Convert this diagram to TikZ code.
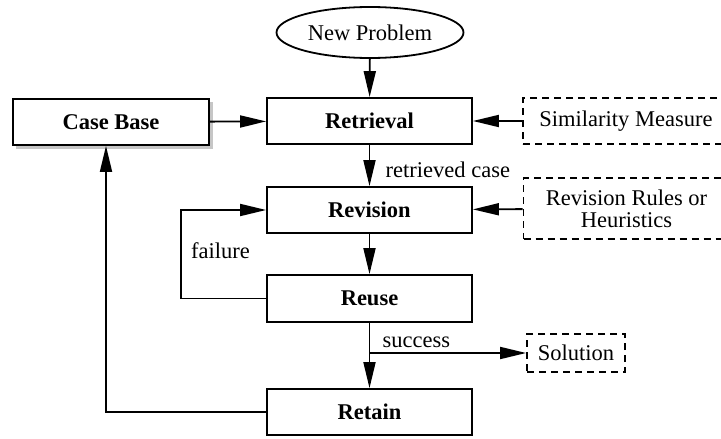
\documentclass[tikz,border=0pt]{standalone}
\usepackage{fontspec}
\setmainfont{Liberation Serif}
\usetikzlibrary{arrows.meta,shapes.geometric}
\tikzset{
  stagebox/.style={draw, line width=1.8pt, minimum width=205pt, minimum height=46pt, font=\fontsize{22.5}{25}\selectfont\bfseries},
  extbox/.style={draw, dashed, line width=1.8pt, dash pattern=on 7pt off 5pt, minimum width=206pt, minimum height=46pt, align=center},
  flow/.style={line width=1.8pt, -{Triangle[length=26pt,width=12pt]}}
}
\begin{document}
\begin{tikzpicture}[x=1pt, y=-1pt, font=\fontsize{22.5}{25}\selectfont]
\useasboundingbox (0,0) rectangle (721,439);
% Draw the nodes
        \node[draw, ellipse, line width=1.8pt, minimum width=187pt, minimum height=51pt, inner sep=0pt] (np) at (370,32.5) {New Problem};
        \node[stagebox] (ret) at (369.5,121) {Retrieval};
        \fill[gray!45] (16,102) rectangle (213,149);
        \node[stagebox, minimum width=196pt, fill=white] (cb) at (111,122) {Case Base};
        \node[extbox] (sim) at (626,121) {Similarity Measure};
        \node[stagebox] (rev) at (369.5,210) {Revision};
        \node[extbox, minimum height=61pt] (rr) at (626.5,208.5) {Revision Rules or\\[-3pt]Heuristics};
        \node[stagebox, minimum height=47pt] (reu) at (369.5,298.5) {Reuse};
        \node[extbox, minimum width=98pt, minimum height=38pt, inner sep=0pt] (sol) at (576,353) {Solution};
        \node[stagebox] (rtn) at (369.5,412) {Retain};
        \coordinate (br) at (reu.south |- sol.west);
% Draw the arrows
        \draw[flow] (np) -- (ret);
        \draw[flow] (cb) -- (ret);
        \draw[flow] (sim) -- (ret);
        \draw[flow] (ret) -- node[right, xshift=12pt, yshift=-4pt] {retrieved case} (rev);
        \draw[flow] (rr) -- (rev);
        \draw[flow] (rev) -- (reu);
        \draw[flow] (reu.west) -- (181,298.5) |- node[pos=0.25, right, xshift=6pt, yshift=4pt] {failure} (rev.west);
        \draw[flow] (reu) -- (rtn);
        \draw[flow] (br) -- node[above, pos=0.3, yshift=1pt] {success} (sol);
        \draw[flow] (rtn.west) -- (106,412) -- (106,412 |- cb.south);
\end{tikzpicture}
\end{document}
